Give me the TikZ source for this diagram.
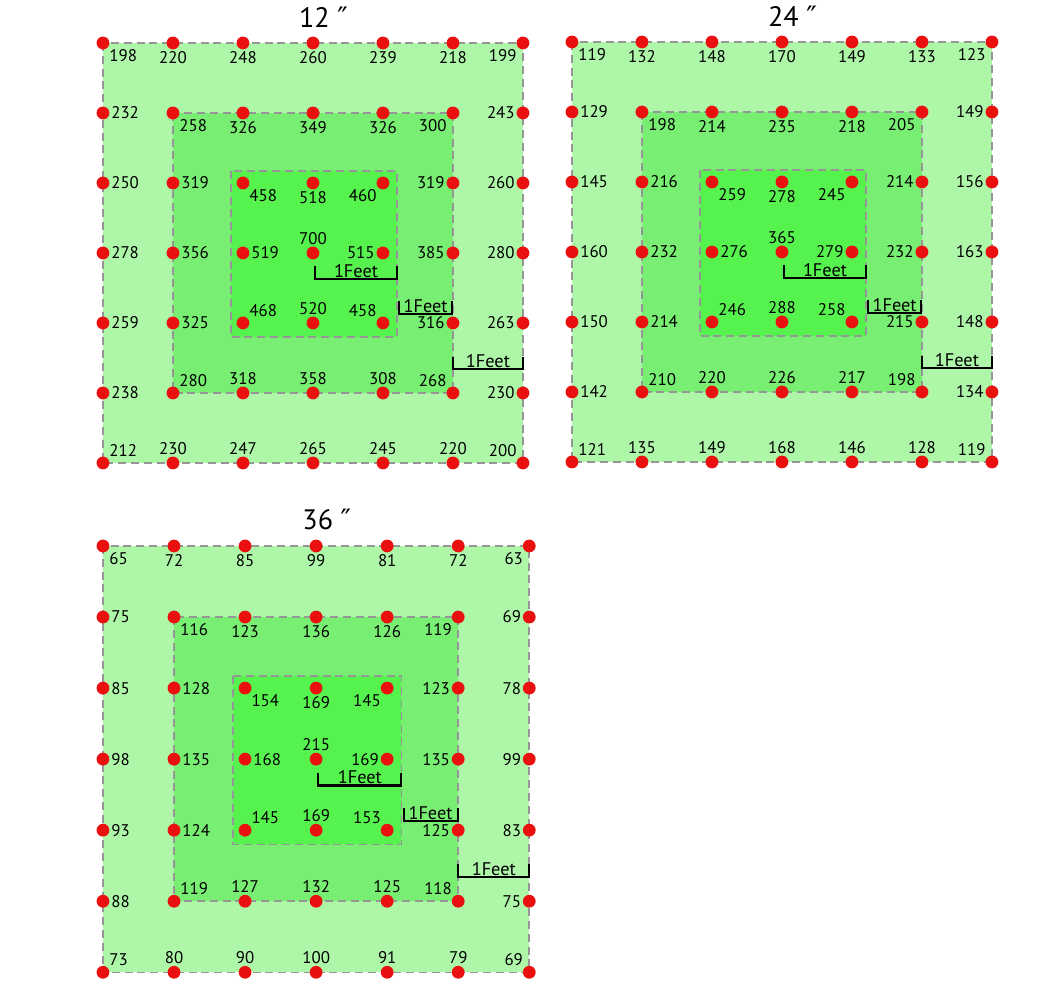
\documentclass[tikz,border=0pt]{standalone}
\usepackage{fontspec}
\setmainfont{PT Sans}
\newfontfamily\primefont{DejaVu Sans}

\definecolor{outerzone}{RGB}{174,246,168}
\definecolor{midzone}{RGB}{120,238,114}
\definecolor{innerzone}{RGB}{86,243,78}
\definecolor{zoneline}{RGB}{150,150,150}
\definecolor{dotred}{RGB}{235,16,16}

\newcommand{\sensorpanel}[3]{%
  \draw[zone,fill=outerzone] (0,0) rectangle (6,6);
  \draw[zone,fill=midzone] (1,1) rectangle (5,5);
  \draw[zone,fill=innerzone] (1.83,1.83) rectangle (4.2,4.2);
  \node[paneltitle] (#1-title) at (3.15,-0.37) {#2 {\primefont ″}};
  \foreach \row [count=\j from 0] in {#3} {
    \foreach \val [count=\i from 0] in \row {
      \pgfmathtruncatemacro\rg{min(\i,\j,6-\i,6-\j)}
      \pgfmathtruncatemacro\dx{(\i==\rg)-(\i==6-\rg)}
      \pgfmathtruncatemacro\dy{(\j==6-\rg)-(\j==\rg)+(\rg==3)}
      \pgfmathtruncatemacro\ang{round(atan2(\dy,\dx))}
      \node[dot,label={[reading]\ang:\val}] (#1-\i-\j) at (\i,\j) {};
    }
  }
  \coordinate (#1-bar1a) at (3.03,3.37);
  \coordinate (#1-bar1b) at (4.2,3.37);
  \coordinate (#1-bar2a) at (4.23,3.87);
  \coordinate (#1-bar2b) at (4.99,3.87);
  \coordinate (#1-bar3a) at (5.0,4.66);
  \coordinate (#1-bar3b) at (6.0,4.66);
  \draw[scalebar] (#1-bar1a) ++(0,-0.18) -- (#1-bar1a) -- (#1-bar1b) node[barlabel,midway] {1Feet} -- ++(0,-0.18);
  \draw[scalebar] (#1-bar2a) ++(0,-0.18) -- (#1-bar2a) -- (#1-bar2b) node[barlabel,midway] {1Feet} -- ++(0,-0.18);
  \draw[scalebar] (#1-bar3a) ++(0,-0.18) -- (#1-bar3a) -- (#1-bar3b) node[barlabel,midway] {1Feet} -- ++(0,-0.18);
}

\begin{document}
\begin{tikzpicture}[x=1.75cm,y=-1.75cm,
  zone/.style={draw=zoneline,line width=1.1pt,dash pattern=on 0.2cm off 0.12cm},
  dot/.style={circle,fill=dotred,inner sep=0pt,minimum size=0.32cm},
  reading/.style={font=\fontsize{12}{12}\selectfont,inner sep=1pt},
  paneltitle/.style={font=\fontsize{20}{20}\selectfont},
  scalebar/.style={line width=1.5pt},
  barlabel/.style={font=\fontsize{13}{13}\selectfont,inner sep=0.3pt,above}]

\useasboundingbox (0,0) rectangle (15.129,14.214);

\begin{scope}[shift={(1.471,0.614)}]
  \sensorpanel{p12}{12}{{198,220,248,260,239,218,199},
    {232,258,326,349,326,300,243},
    {250,319,458,518,460,319,260},
    {278,356,519,700,515,385,280},
    {259,325,468,520,458,316,263},
    {238,280,318,358,308,268,230},
    {212,230,247,265,245,220,200}}
\end{scope}

\begin{scope}[shift={(8.171,0.6)}]
  \sensorpanel{p24}{24}{{119,132,148,170,149,133,123},
    {129,198,214,235,218,205,149},
    {145,216,259,278,245,214,156},
    {160,232,276,365,279,232,163},
    {150,214,246,288,258,215,148},
    {142,210,220,226,217,198,134},
    {121,135,149,168,146,128,119}}
\end{scope}

\begin{scope}[shift={(1.471,7.8)},scale=1.015]
  \sensorpanel{p36}{36}{{65,72,85,99,81,72,63},
    {75,116,123,136,126,119,69},
    {85,128,154,169,145,123,78},
    {98,135,168,215,169,135,99},
    {93,124,145,169,153,125,83},
    {88,119,127,132,125,118,75},
    {73,80,90,100,91,79,69}}
\end{scope}

\end{tikzpicture}
\end{document}
